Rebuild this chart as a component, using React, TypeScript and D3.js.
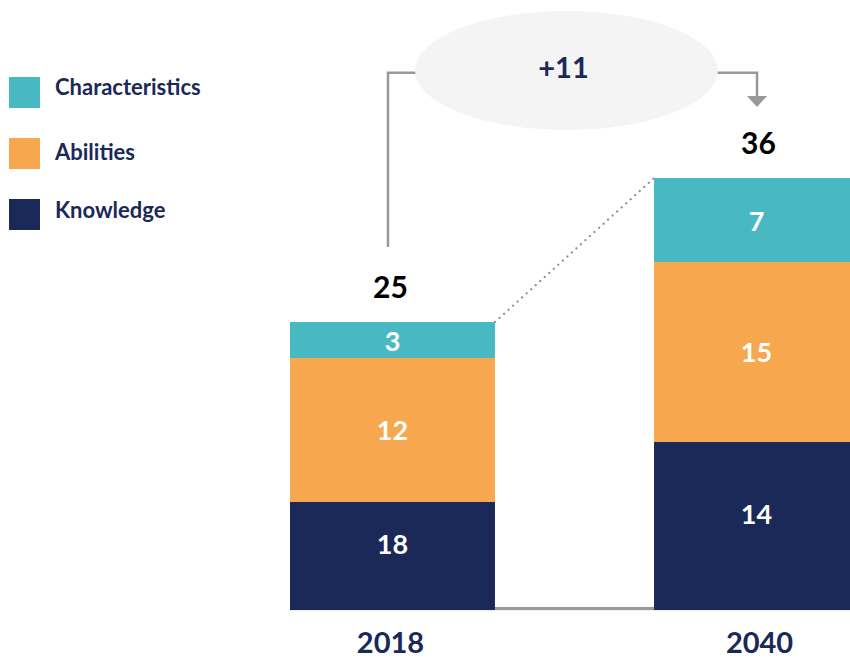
import React from "react";
import * as d3 from "d3";

// ---- data ----
const years = ["2018", "2040"];
const seriesKeys = ["Knowledge", "Abilities", "Characteristics"];
// segment heights as drawn in the picture
const knowledgeValues = [9, 14];
const abilitiesValues = [12, 15];
const characteristicsValues = [3, 7];
// labels printed on the segments
const knowledgeLabels = ["18", "14"];
const abilitiesLabels = ["12", "15"];
const characteristicsLabels = ["3", "7"];
const totalLabels = ["25", "36"];
const deltaLabel = "+11";
const legendItems = ["Characteristics", "Abilities", "Knowledge"];

const W = 850;
const H = 659;
const FONT = "Lato, 'Open Sans', sans-serif";
const NAVY = "#1a2957";
const colors: Record<string, string> = {
  Knowledge: "#1a2957",
  Abilities: "#f7a84f",
  Characteristics: "#48b9c2",
};
const labelMap: Record<string, string[]> = {
  Knowledge: knowledgeLabels,
  Abilities: abilitiesLabels,
  Characteristics: characteristicsLabels,
};
const labelOffset: Record<string, number> = {
  Knowledge: -12,
  Abilities: 0,
  Characteristics: 1,
};
const legendTextOffset = [2, 6, 3];

export default function App() {
  const rows = years.map((y, i) => ({
    year: y,
    Knowledge: knowledgeValues[i],
    Abilities: abilitiesValues[i],
    Characteristics: characteristicsValues[i],
  }));
  const stacked = d3.stack<any>().keys(seriesKeys)(rows);

  const x = d3.scaleBand<string>().domain(years).range([290, 859]).paddingInner(0.437).paddingOuter(0);
  const y = d3.scaleLinear().domain([0, 36]).range([610, 178]);
  const bw = x.bandwidth();

  const totals = rows.map((r) => r.Knowledge + r.Abilities + r.Characteristics);
  const c0 = (x(years[0]) as number) + bw / 2;
  const c1 = (x(years[1]) as number) + bw / 2;
  const top0 = y(totals[0]);
  const top1 = y(totals[1]);

  const ell = { cx: 566.5, cy: 70.5, rx: 151.5, ry: 59.5 };
  const connY = 72.7;
  const leftX = c0 - 4.5;
  const rightX = c1 + 0.5;

  return (
    <svg
      width={W}
      height={H}
      style={{ position: "absolute", left: 0, top: 0, background: "#fff" }}
      fontFamily={FONT}
    >
      {/* legend */}
      {legendItems.map((k, i) => (
        <g key={k}>
          <rect x={9} y={77 + i * 61} width={31} height={31} fill={colors[k]} />
          <text
            x={55}
            y={77 + i * 61 + 15.5 + legendTextOffset[i]}
            fontSize={22}
            fontWeight={700}
            fill={NAVY}
          >
            {k}
          </text>
        </g>
      ))}

      {/* connectors */}
      <polyline
        points={`${leftX},${top0 - 75} ${leftX},${connY} ${ell.cx - ell.rx + 2},${connY}`}
        fill="none"
        stroke="#999"
        strokeWidth={2.5}
      />
      <polyline
        points={`${ell.cx + ell.rx - 2},${connY} ${rightX},${connY} ${rightX},${97}`}
        fill="none"
        stroke="#999"
        strokeWidth={2.5}
      />
      <polygon points={`${rightX - 10},96 ${rightX + 10},96 ${rightX},107`} fill="#999" />
      <ellipse cx={ell.cx} cy={ell.cy} rx={ell.rx} ry={ell.ry} fill="#f4f4f4" />
      <text x={ell.cx - 3} y={77.5} textAnchor="middle" fontSize={29} fontWeight={700} fill={NAVY}>
        {deltaLabel}
      </text>

      {/* dotted link */}
      <line
        x1={(x(years[0]) as number) + bw}
        y1={top0}
        x2={x(years[1]) as number}
        y2={top1}
        stroke="#8f8f8f"
        strokeWidth={2.2}
        strokeDasharray="0.1 6"
        strokeLinecap="round"
      />

      {/* baseline */}
      <line x1={290} x2={W} y1={610.5} y2={610.5} stroke="#ececec" strokeWidth={1} />
      <line
        x1={(x(years[0]) as number) + bw}
        x2={x(years[1]) as number}
        y1={608.5}
        y2={608.5}
        stroke="#9a9a9a"
        strokeWidth={3}
      />

      {/* bars */}
      {stacked.map((s) => (
        <g key={s.key}>
          {s.map((d, i) => (
            <g key={i}>
              <rect
                x={x(years[i]) as number}
                y={y(d[1])}
                width={bw}
                height={y(d[0]) - y(d[1])}
                fill={colors[s.key]}
              />
              <text
                x={(x(years[i]) as number) + bw / 2}
                y={(y(d[0]) + y(d[1])) / 2 + labelOffset[s.key]}
                dy="0.36em"
                textAnchor="middle"
                fontSize={27}
                fontWeight={700}
                fill="#fff"
              >
                {labelMap[s.key][i]}
              </text>
            </g>
          ))}
        </g>
      ))}

      {/* totals */}
      {years.map((yr, i) => (
        <text
          key={yr}
          x={(x(yr) as number) + bw / 2 + (i === 0 ? -2 : 2)}
          y={y(totals[i]) - 24}
          textAnchor="middle"
          fontSize={30}
          fontWeight={700}
          fill="#000"
        >
          {totalLabels[i]}
        </text>
      ))}

      {/* year labels */}
      {years.map((yr, i) => (
        <text
          key={yr}
          x={(x(yr) as number) + bw / 2 + (i === 0 ? -2 : 3)}
          y={653}
          textAnchor="middle"
          fontSize={29}
          fontWeight={700}
          fill={NAVY}
        >
          {yr}
        </text>
      ))}
    </svg>
  );
}
